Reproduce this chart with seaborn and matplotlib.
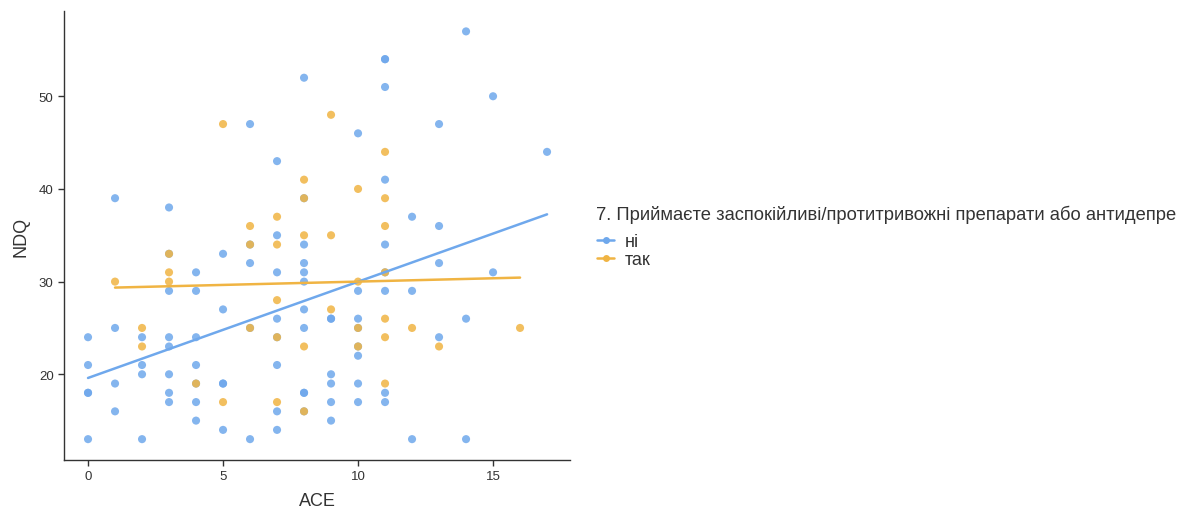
import numpy as np
import pandas as pd
import matplotlib
matplotlib.use("Agg")
import matplotlib.pyplot as plt
from matplotlib.lines import Line2D
import seaborn as sns

# ---- data ----
ne_x = ([0]*5 + [1]*4 + [2]*4 + [3]*8 + [4]*7 + [5]*5 + [6]*5 + [7]*8 + [8]*11 +
        [9]*6 + [10]*8 + [11]*9 + [12]*3 + [13]*4 + [14]*3 + [15]*2 + [17])
ne_y = [24, 21, 18, 18, 13,
        39, 25, 19, 16,
        24, 21, 20, 13,
        38, 33, 29, 24, 23, 20, 18, 17,
        31, 29, 24, 21, 19, 17, 15,
        33, 27, 19, 19, 14,
        47, 34, 32, 25, 13,
        43, 35, 31, 26, 24, 21, 16, 14,
        52, 39, 34, 32, 31, 30, 27, 25, 18, 18, 16,
        26, 26, 20, 19, 17, 15,
        46, 29, 26, 25, 23, 22, 19, 17,
        54, 54, 51, 41, 34, 31, 29, 18, 17,
        37, 29, 13,
        47, 36, 32, 24,
        57, 26, 13,
        50, 31,
        44]

tak_x = ([1] + [2]*2 + [3]*3 + [4] + [5]*2 + [6]*3 + [7]*5 + [8]*5 + [9]*3 +
         [10]*4 + [11]*7 + [12] + [13] + [16])
tak_y = [30,
         25, 23,
         33, 31, 30,
         19,
         47, 17,
         36, 34, 25,
         37, 34, 28, 24, 17,
         41, 39, 35, 23, 16,
         48, 35, 27,
         40, 30, 25, 23,
         44, 39, 36, 31, 26, 24, 19,
         25,
         23,
         25]

groups = ["ні", "так"]
x_ticks = [0, 5, 10, 15]
y_ticks = [20, 30, 40, 50]
legend_title = "7. Приймаєте заспокійливі/протитривожні препарати або антидепре"
x_label = "ACE"
y_label = "NDQ"

df = pd.DataFrame({
    "ACE": ne_x + tak_x,
    "NDQ": ne_y + tak_y,
    "grp": [groups[0]] * len(ne_x) + [groups[1]] * len(tak_x),
})

colors = {"ні": "#6FA8EC", "так": "#F0B443"}

sns.set_theme(style="ticks")
plt.rcParams["font.family"] = ["Liberation Sans", "DejaVu Sans"]

fig = plt.figure(figsize=(11.89, 5.10), dpi=100)
ax = fig.add_axes([64/1189, 1 - 461/510, (570-64)/1189, (461-12)/510])

sns.scatterplot(data=df, x="ACE", y="NDQ", hue="grp", palette=colors,
                s=34, linewidth=0, alpha=0.85, ax=ax, legend=False)
for g in groups:
    sub = df[df.grp == g]
    sns.regplot(data=sub, x="ACE", y="NDQ", scatter=False, ci=None,
                color=colors[g], line_kws={"linewidth": 1.8}, ax=ax, truncate=True)

ax.set_xlim(-0.89, 17.85)
ax.set_ylim(10.75, 59.2)
ax.set_xticks(x_ticks)
ax.set_yticks(y_ticks)
ax.set_xlabel(x_label, fontsize=13, color="#333333", labelpad=7)
ax.set_ylabel(y_label, fontsize=13, color="#333333", labelpad=7)
ax.tick_params(labelsize=9.5, colors="#333333", length=4, width=1)
for s in ["top", "right"]:
    ax.spines[s].set_visible(False)
for s in ["left", "bottom"]:
    ax.spines[s].set_color("#333333")
    ax.spines[s].set_linewidth(1)

fig.text(596/1189, 1 - 215/510, legend_title, fontsize=13.2, color="#333333",
         ha="left", va="center")
handles = [Line2D([0], [0], color=colors[g], marker="o", markersize=5,
                  linewidth=1.8, markeredgewidth=0) for g in groups]
leg = fig.legend(handles, groups, loc="upper left",
                 bbox_to_anchor=(597/1189, 1 - 234/510), frameon=False,
                 fontsize=13, handlelength=0.95, borderpad=0, borderaxespad=0,
                 handletextpad=0.6, labelspacing=0.08)
for t in leg.get_texts():
    t.set_color("#333333")

fig.savefig("out.png", dpi=100)
